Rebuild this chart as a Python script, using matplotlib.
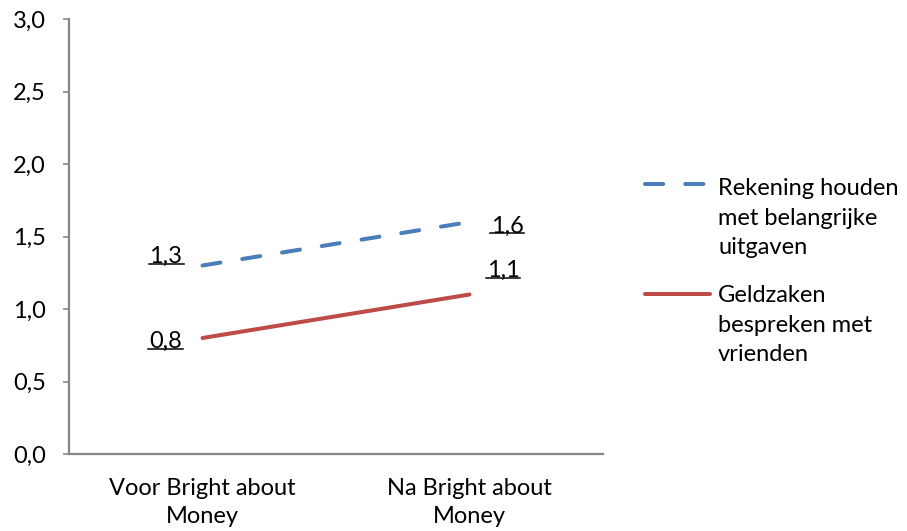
import matplotlib
matplotlib.use("Agg")
import matplotlib.pyplot as plt
from matplotlib.lines import Line2D

plt.rcParams["font.family"] = ["Lato", "DejaVu Sans"]

categories = ["Voor Bright about\nMoney", "Na Bright about\nMoney"]
rekening = [1.3, 1.6]
geldzaken = [0.8, 1.1]
series_names = ["Rekening houden\nmet belangrijke\nuitgaven",
                "Geldzaken\nbespreken met\nvrienden"]
yticks = [0.0, 0.5, 1.0, 1.5, 2.0, 2.5, 3.0]

BLUE = "#4A7EBB"
RED = "#BE4B48"
GREY = "#868686"
FS = 17

W, H = 907, 531
fig = plt.figure(figsize=(W / 100, H / 100), dpi=100)
ax = fig.add_axes([69 / W, 1 - 454 / H, (603 - 69) / W, (454 - 19) / H])

x = list(range(len(categories)))
lw = 2.9
ax.plot(x, rekening, color=BLUE, lw=lw, dashes=(4.5, 5.5),
        dash_capstyle="round", solid_capstyle="round")
ax.plot(x, geldzaken, color=RED, lw=lw, solid_capstyle="round")

ax.set_xlim(-0.5, len(categories) - 0.5)
ax.set_ylim(0, 3.0)
ax.set_yticks(yticks)
ax.set_yticklabels([f"{v:.1f}".replace(".", ",") for v in yticks])
ax.set_xticks(x)
ax.set_xticklabels(categories)

for side in ("top", "right"):
    ax.spines[side].set_visible(False)
for side in ("left", "bottom"):
    ax.spines[side].set_color(GREY)
    ax.spines[side].set_linewidth(1.6)
ax.tick_params(axis="y", length=4.5, width=1.2, color=GREY, labelsize=FS, pad=12)
ax.tick_params(axis="x", length=0, labelsize=FS, pad=17)
for t in ax.get_xticklabels():
    t.set_linespacing(1.45)

# value labels (baseline offsets in pixels), underlined afterwards
offsets = {
    ("r", 0): (-36.5, 2.5), ("r", 1): (37.5, -11),
    ("g", 0): (-37, -10), ("g", 1): (33.5, 17.5),
}
labels = []
for key, vals in (("r", rekening), ("g", geldzaken)):
    for i, v in enumerate(vals):
        dx, dy = offsets[(key, i)]
        t = ax.annotate(f"{v:.1f}".replace(".", ","), (i, v),
                        xytext=(dx * 0.72, dy * 0.72), textcoords="offset points",
                        ha="center", va="baseline", fontsize=FS)
        labels.append(t)

fig.canvas.draw()
r = fig.canvas.get_renderer()
for t in labels:
    bb = t.get_window_extent(r)
    tx, ty = t.get_transform().transform(t.xy)
    y = ty + t.xyann[1] / 0.72 - 2.5
    fig.add_artist(Line2D([(bb.x0 - 1) / W, (bb.x1 + 1) / W], [y / H, y / H],
                          color="black", lw=1.1, transform=fig.transFigure))

# legend drawn by hand so each handle sits on the first text line
legend_rows = [(BLUE, (4.5, 5.5), 184, 195), (RED, None, 294, 302)]
for (color, dashes, hy, base), name in zip(legend_rows, series_names):
    kw = dict(color=color, lw=lw, transform=fig.transFigure,
              solid_capstyle="round", dash_capstyle="round")
    if dashes:
        kw["dashes"] = dashes
    fig.add_artist(Line2D([645 / W, 710 / W], [1 - hy / H, 1 - hy / H], **kw))
    for k, line in enumerate(name.split("\n")):
        fig.text(718 / W, 1 - (base + 29.5 * k) / H, line, fontsize=FS,
                 va="baseline", ha="left")

fig.savefig("out.png", dpi=100)
